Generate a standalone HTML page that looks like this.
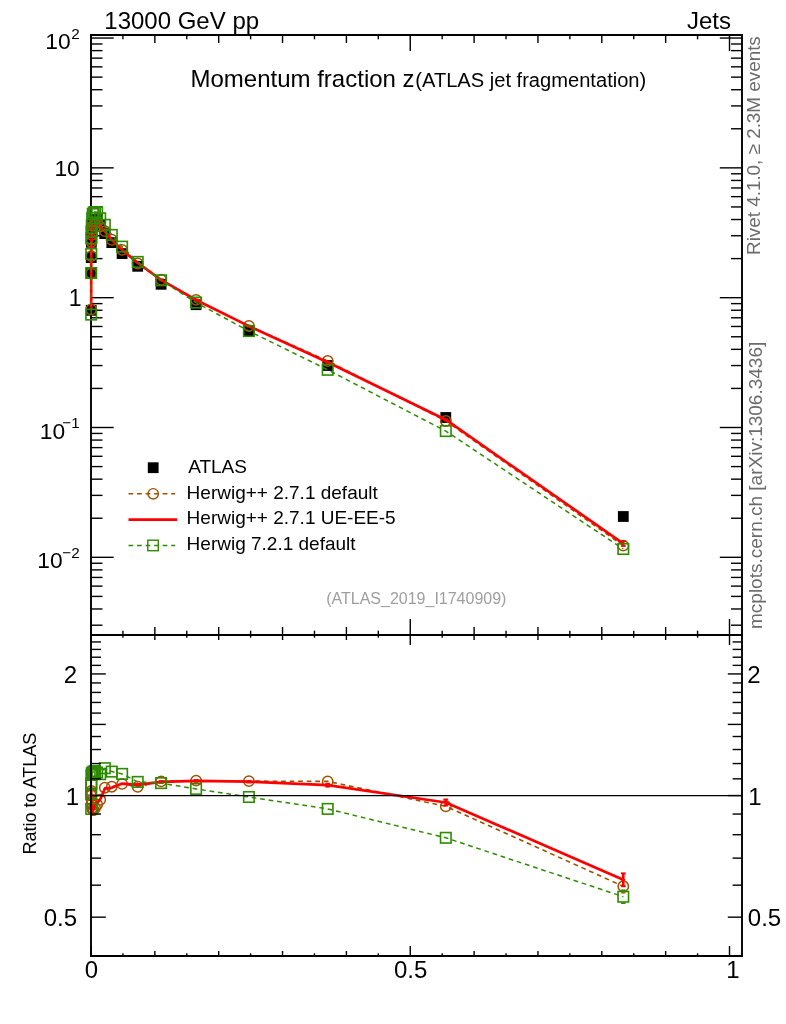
<!DOCTYPE html>
<html><head><meta charset="utf-8"><title>Momentum fraction z</title>
<style>
html,body{margin:0;padding:0;background:#fff;}
svg{display:block;will-change:transform;}
text{font-family:"Liberation Sans",sans-serif;}
</style></head><body>
<svg width="786" height="1024" viewBox="0 0 786 1024">
<rect width="786" height="1024" fill="#fff"/>
<line x1="91.00" y1="34.00" x2="91.00" y2="635.00" stroke="#000" stroke-width="1.9" />
<line x1="91.00" y1="625.20" x2="102.50" y2="625.20" stroke="#000" stroke-width="1.4" />
<line x1="91.00" y1="608.98" x2="102.50" y2="608.98" stroke="#000" stroke-width="1.4" />
<line x1="91.00" y1="596.40" x2="102.50" y2="596.40" stroke="#000" stroke-width="1.4" />
<line x1="91.00" y1="586.12" x2="102.50" y2="586.12" stroke="#000" stroke-width="1.4" />
<line x1="91.00" y1="577.43" x2="102.50" y2="577.43" stroke="#000" stroke-width="1.4" />
<line x1="91.00" y1="569.90" x2="102.50" y2="569.90" stroke="#000" stroke-width="1.4" />
<line x1="91.00" y1="563.26" x2="102.50" y2="563.26" stroke="#000" stroke-width="1.4" />
<line x1="91.00" y1="557.32" x2="113.70" y2="557.32" stroke="#000" stroke-width="1.4" />
<line x1="91.00" y1="518.24" x2="102.50" y2="518.24" stroke="#000" stroke-width="1.4" />
<line x1="91.00" y1="495.38" x2="102.50" y2="495.38" stroke="#000" stroke-width="1.4" />
<line x1="91.00" y1="479.16" x2="102.50" y2="479.16" stroke="#000" stroke-width="1.4" />
<line x1="91.00" y1="466.58" x2="102.50" y2="466.58" stroke="#000" stroke-width="1.4" />
<line x1="91.00" y1="456.30" x2="102.50" y2="456.30" stroke="#000" stroke-width="1.4" />
<line x1="91.00" y1="447.61" x2="102.50" y2="447.61" stroke="#000" stroke-width="1.4" />
<line x1="91.00" y1="440.08" x2="102.50" y2="440.08" stroke="#000" stroke-width="1.4" />
<line x1="91.00" y1="433.44" x2="102.50" y2="433.44" stroke="#000" stroke-width="1.4" />
<line x1="91.00" y1="427.50" x2="113.70" y2="427.50" stroke="#000" stroke-width="1.4" />
<line x1="91.00" y1="388.42" x2="102.50" y2="388.42" stroke="#000" stroke-width="1.4" />
<line x1="91.00" y1="365.56" x2="102.50" y2="365.56" stroke="#000" stroke-width="1.4" />
<line x1="91.00" y1="349.34" x2="102.50" y2="349.34" stroke="#000" stroke-width="1.4" />
<line x1="91.00" y1="336.76" x2="102.50" y2="336.76" stroke="#000" stroke-width="1.4" />
<line x1="91.00" y1="326.48" x2="102.50" y2="326.48" stroke="#000" stroke-width="1.4" />
<line x1="91.00" y1="317.79" x2="102.50" y2="317.79" stroke="#000" stroke-width="1.4" />
<line x1="91.00" y1="310.26" x2="102.50" y2="310.26" stroke="#000" stroke-width="1.4" />
<line x1="91.00" y1="303.62" x2="102.50" y2="303.62" stroke="#000" stroke-width="1.4" />
<line x1="91.00" y1="297.68" x2="113.70" y2="297.68" stroke="#000" stroke-width="1.4" />
<line x1="91.00" y1="258.60" x2="102.50" y2="258.60" stroke="#000" stroke-width="1.4" />
<line x1="91.00" y1="235.74" x2="102.50" y2="235.74" stroke="#000" stroke-width="1.4" />
<line x1="91.00" y1="219.52" x2="102.50" y2="219.52" stroke="#000" stroke-width="1.4" />
<line x1="91.00" y1="206.94" x2="102.50" y2="206.94" stroke="#000" stroke-width="1.4" />
<line x1="91.00" y1="196.66" x2="102.50" y2="196.66" stroke="#000" stroke-width="1.4" />
<line x1="91.00" y1="187.97" x2="102.50" y2="187.97" stroke="#000" stroke-width="1.4" />
<line x1="91.00" y1="180.44" x2="102.50" y2="180.44" stroke="#000" stroke-width="1.4" />
<line x1="91.00" y1="173.80" x2="102.50" y2="173.80" stroke="#000" stroke-width="1.4" />
<line x1="91.00" y1="167.86" x2="113.70" y2="167.86" stroke="#000" stroke-width="1.4" />
<line x1="91.00" y1="128.78" x2="102.50" y2="128.78" stroke="#000" stroke-width="1.4" />
<line x1="91.00" y1="105.92" x2="102.50" y2="105.92" stroke="#000" stroke-width="1.4" />
<line x1="91.00" y1="89.70" x2="102.50" y2="89.70" stroke="#000" stroke-width="1.4" />
<line x1="91.00" y1="77.12" x2="102.50" y2="77.12" stroke="#000" stroke-width="1.4" />
<line x1="91.00" y1="66.84" x2="102.50" y2="66.84" stroke="#000" stroke-width="1.4" />
<line x1="91.00" y1="58.15" x2="102.50" y2="58.15" stroke="#000" stroke-width="1.4" />
<line x1="91.00" y1="50.62" x2="102.50" y2="50.62" stroke="#000" stroke-width="1.4" />
<line x1="91.00" y1="43.98" x2="102.50" y2="43.98" stroke="#000" stroke-width="1.4" />
<line x1="91.00" y1="38.04" x2="113.70" y2="38.04" stroke="#000" stroke-width="1.4" />
<rect x="617.90" y="511.10" width="10.8" height="10.8" fill="#000"/>
<rect x="440.40" y="412.10" width="10.8" height="10.8" fill="#000"/>
<rect x="322.30" y="360.10" width="10.8" height="10.8" fill="#000"/>
<rect x="243.50" y="325.20" width="10.8" height="10.8" fill="#000"/>
<rect x="190.70" y="299.30" width="10.8" height="10.8" fill="#000"/>
<rect x="155.70" y="278.90" width="10.8" height="10.8" fill="#000"/>
<rect x="132.30" y="260.90" width="10.8" height="10.8" fill="#000"/>
<rect x="116.70" y="248.20" width="10.8" height="10.8" fill="#000"/>
<rect x="106.40" y="237.20" width="10.8" height="10.8" fill="#000"/>
<rect x="99.40" y="228.20" width="10.8" height="10.8" fill="#000"/>
<rect x="94.80" y="219.76" width="10.8" height="10.8" fill="#000"/>
<rect x="91.75" y="214.31" width="10.8" height="10.8" fill="#000"/>
<rect x="89.70" y="214.49" width="10.8" height="10.8" fill="#000"/>
<rect x="88.30" y="214.83" width="10.8" height="10.8" fill="#000"/>
<rect x="87.40" y="216.01" width="10.8" height="10.8" fill="#000"/>
<rect x="86.80" y="219.85" width="10.8" height="10.8" fill="#000"/>
<rect x="86.40" y="226.69" width="10.8" height="10.8" fill="#000"/>
<rect x="86.10" y="232.60" width="10.8" height="10.8" fill="#000"/>
<rect x="85.95" y="236.90" width="10.8" height="10.8" fill="#000"/>
<rect x="85.85" y="252.22" width="10.8" height="10.8" fill="#000"/>
<rect x="85.80" y="268.10" width="10.8" height="10.8" fill="#000"/>
<rect x="85.80" y="304.91" width="10.8" height="10.8" fill="#000"/>
<polyline points="91.20,309.49 91.20,273.48 91.25,256.15 91.35,241.97 91.50,239.43 91.80,234.80 92.20,229.25 92.80,226.05 93.70,224.87 95.10,223.89 97.15,222.58 100.20,226.53 104.80,231.08 111.80,239.76 122.10,249.86 137.70,263.49 161.10,279.75 196.10,299.90 248.90,325.96 327.70,360.95 445.80,420.95 623.30,545.66" fill="none" stroke="#9f5000" stroke-width="1.6" stroke-dasharray="4.72 3.82" stroke-dashoffset="3.22" stroke-linejoin="round"/>
<circle cx="623.30" cy="545.66" r="5.2" fill="none" stroke="#9f5000" stroke-width="1.5"/>
<circle cx="445.80" cy="420.95" r="5.2" fill="none" stroke="#9f5000" stroke-width="1.5"/>
<circle cx="327.70" cy="360.95" r="5.2" fill="none" stroke="#9f5000" stroke-width="1.5"/>
<circle cx="248.90" cy="325.96" r="5.2" fill="none" stroke="#9f5000" stroke-width="1.5"/>
<circle cx="196.10" cy="299.90" r="5.2" fill="none" stroke="#9f5000" stroke-width="1.5"/>
<circle cx="161.10" cy="279.75" r="5.2" fill="none" stroke="#9f5000" stroke-width="1.5"/>
<circle cx="137.70" cy="263.49" r="5.2" fill="none" stroke="#9f5000" stroke-width="1.5"/>
<circle cx="122.10" cy="249.86" r="5.2" fill="none" stroke="#9f5000" stroke-width="1.5"/>
<circle cx="111.80" cy="239.76" r="5.2" fill="none" stroke="#9f5000" stroke-width="1.5"/>
<circle cx="104.80" cy="231.08" r="5.2" fill="none" stroke="#9f5000" stroke-width="1.5"/>
<circle cx="100.20" cy="226.53" r="5.2" fill="none" stroke="#9f5000" stroke-width="1.5"/>
<circle cx="97.15" cy="222.58" r="5.2" fill="none" stroke="#9f5000" stroke-width="1.5"/>
<circle cx="95.10" cy="223.89" r="5.2" fill="none" stroke="#9f5000" stroke-width="1.5"/>
<circle cx="93.70" cy="224.87" r="5.2" fill="none" stroke="#9f5000" stroke-width="1.5"/>
<circle cx="92.80" cy="226.05" r="5.2" fill="none" stroke="#9f5000" stroke-width="1.5"/>
<circle cx="92.20" cy="229.25" r="5.2" fill="none" stroke="#9f5000" stroke-width="1.5"/>
<circle cx="91.80" cy="234.80" r="5.2" fill="none" stroke="#9f5000" stroke-width="1.5"/>
<circle cx="91.50" cy="239.43" r="5.2" fill="none" stroke="#9f5000" stroke-width="1.5"/>
<circle cx="91.35" cy="241.97" r="5.2" fill="none" stroke="#9f5000" stroke-width="1.5"/>
<circle cx="91.25" cy="256.15" r="5.2" fill="none" stroke="#9f5000" stroke-width="1.5"/>
<circle cx="91.20" cy="273.48" r="5.2" fill="none" stroke="#9f5000" stroke-width="1.5"/>
<circle cx="91.20" cy="309.49" r="5.2" fill="none" stroke="#9f5000" stroke-width="1.5"/>
<polyline points="91.20,308.72 91.20,273.48 91.25,256.80 91.35,243.09 91.50,240.72 91.80,236.41 92.20,230.53 92.80,226.53 93.70,224.23 95.10,222.76 97.15,221.94 100.20,226.43 104.80,231.40 111.80,240.11 122.10,249.76 137.70,262.85 161.10,279.91 196.10,299.99 248.90,326.15 327.70,362.17 445.80,419.73 623.30,543.57" fill="none" stroke="#ff0000" stroke-width="2.7"  stroke-linejoin="round"/>
<line x1="623.30" y1="541.17" x2="623.30" y2="545.97" stroke="#ff0000" stroke-width="2.4" />
<line x1="620.90" y1="541.17" x2="625.70" y2="541.17" stroke="#ff0000" stroke-width="1.8" />
<line x1="620.90" y1="545.97" x2="625.70" y2="545.97" stroke="#ff0000" stroke-width="1.8" />
<line x1="445.80" y1="419.03" x2="445.80" y2="420.43" stroke="#ff0000" stroke-width="2.4" />
<line x1="443.40" y1="419.03" x2="448.20" y2="419.03" stroke="#ff0000" stroke-width="1.6" />
<line x1="443.40" y1="420.43" x2="448.20" y2="420.43" stroke="#ff0000" stroke-width="1.6" />
<line x1="327.70" y1="361.47" x2="327.70" y2="362.87" stroke="#ff0000" stroke-width="2.4" />
<line x1="325.30" y1="361.47" x2="330.10" y2="361.47" stroke="#ff0000" stroke-width="1.6" />
<line x1="325.30" y1="362.87" x2="330.10" y2="362.87" stroke="#ff0000" stroke-width="1.6" />
<line x1="248.90" y1="325.45" x2="248.90" y2="326.85" stroke="#ff0000" stroke-width="2.4" />
<line x1="246.50" y1="325.45" x2="251.30" y2="325.45" stroke="#ff0000" stroke-width="1.6" />
<line x1="246.50" y1="326.85" x2="251.30" y2="326.85" stroke="#ff0000" stroke-width="1.6" />
<line x1="196.10" y1="299.29" x2="196.10" y2="300.69" stroke="#ff0000" stroke-width="2.4" />
<line x1="193.70" y1="299.29" x2="198.50" y2="299.29" stroke="#ff0000" stroke-width="1.6" />
<line x1="193.70" y1="300.69" x2="198.50" y2="300.69" stroke="#ff0000" stroke-width="1.6" />
<line x1="161.10" y1="279.21" x2="161.10" y2="280.61" stroke="#ff0000" stroke-width="2.4" />
<line x1="158.70" y1="279.21" x2="163.50" y2="279.21" stroke="#ff0000" stroke-width="1.6" />
<line x1="158.70" y1="280.61" x2="163.50" y2="280.61" stroke="#ff0000" stroke-width="1.6" />
<polyline points="91.20,314.60 91.20,273.00 91.25,254.00 91.35,238.40 91.50,231.40 91.80,225.00 92.20,218.00 92.80,214.00 93.70,212.50 95.10,212.00 97.15,212.30 100.20,218.30 104.80,224.81 111.80,234.90 122.10,246.64 137.70,261.91 161.10,280.30 196.10,302.56 248.90,331.07 327.70,369.79 445.80,431.08 623.30,549.00" fill="none" stroke="#2e8a00" stroke-width="1.5" stroke-dasharray="4.72 3.82" stroke-dashoffset="0.12" stroke-linejoin="round"/>
<rect x="618.05" y="543.75" width="10.5" height="10.5" fill="none" stroke="#2e8a00" stroke-width="1.6"/>
<rect x="440.55" y="425.83" width="10.5" height="10.5" fill="none" stroke="#2e8a00" stroke-width="1.6"/>
<rect x="322.45" y="364.54" width="10.5" height="10.5" fill="none" stroke="#2e8a00" stroke-width="1.6"/>
<rect x="243.65" y="325.82" width="10.5" height="10.5" fill="none" stroke="#2e8a00" stroke-width="1.6"/>
<rect x="190.85" y="297.31" width="10.5" height="10.5" fill="none" stroke="#2e8a00" stroke-width="1.6"/>
<rect x="155.85" y="275.05" width="10.5" height="10.5" fill="none" stroke="#2e8a00" stroke-width="1.6"/>
<rect x="132.45" y="256.66" width="10.5" height="10.5" fill="none" stroke="#2e8a00" stroke-width="1.6"/>
<rect x="116.85" y="241.39" width="10.5" height="10.5" fill="none" stroke="#2e8a00" stroke-width="1.6"/>
<rect x="106.55" y="229.65" width="10.5" height="10.5" fill="none" stroke="#2e8a00" stroke-width="1.6"/>
<rect x="99.55" y="219.56" width="10.5" height="10.5" fill="none" stroke="#2e8a00" stroke-width="1.6"/>
<rect x="94.95" y="213.05" width="10.5" height="10.5" fill="none" stroke="#2e8a00" stroke-width="1.6"/>
<rect x="91.90" y="207.05" width="10.5" height="10.5" fill="none" stroke="#2e8a00" stroke-width="1.6"/>
<rect x="89.85" y="206.75" width="10.5" height="10.5" fill="none" stroke="#2e8a00" stroke-width="1.6"/>
<rect x="88.45" y="207.25" width="10.5" height="10.5" fill="none" stroke="#2e8a00" stroke-width="1.6"/>
<rect x="87.55" y="208.75" width="10.5" height="10.5" fill="none" stroke="#2e8a00" stroke-width="1.6"/>
<rect x="86.95" y="212.75" width="10.5" height="10.5" fill="none" stroke="#2e8a00" stroke-width="1.6"/>
<rect x="86.55" y="219.75" width="10.5" height="10.5" fill="none" stroke="#2e8a00" stroke-width="1.6"/>
<rect x="86.25" y="226.15" width="10.5" height="10.5" fill="none" stroke="#2e8a00" stroke-width="1.6"/>
<rect x="86.10" y="233.15" width="10.5" height="10.5" fill="none" stroke="#2e8a00" stroke-width="1.6"/>
<rect x="86.00" y="248.75" width="10.5" height="10.5" fill="none" stroke="#2e8a00" stroke-width="1.6"/>
<rect x="85.95" y="267.75" width="10.5" height="10.5" fill="none" stroke="#2e8a00" stroke-width="1.6"/>
<rect x="85.95" y="309.35" width="10.5" height="10.5" fill="none" stroke="#2e8a00" stroke-width="1.6"/>
<polyline points="91.20,793.00 91.20,795.50 91.25,791.00 91.35,794.50 91.50,800.00 91.80,804.00 92.20,808.00 92.80,810.00 93.70,810.00 95.10,808.00 97.15,804.50 100.20,799.80 104.80,787.70 111.80,786.70 122.10,783.90 137.70,786.80 161.10,781.40 196.10,780.60 248.90,781.10 327.70,781.40 445.80,806.30 623.30,886.30" fill="none" stroke="#9f5000" stroke-width="1.6" stroke-dasharray="4.72 3.82" stroke-dashoffset="0.87" stroke-linejoin="round"/>
<circle cx="623.30" cy="886.30" r="5.2" fill="none" stroke="#9f5000" stroke-width="1.5"/>
<circle cx="445.80" cy="806.30" r="5.2" fill="none" stroke="#9f5000" stroke-width="1.5"/>
<circle cx="327.70" cy="781.40" r="5.2" fill="none" stroke="#9f5000" stroke-width="1.5"/>
<circle cx="248.90" cy="781.10" r="5.2" fill="none" stroke="#9f5000" stroke-width="1.5"/>
<circle cx="196.10" cy="780.60" r="5.2" fill="none" stroke="#9f5000" stroke-width="1.5"/>
<circle cx="161.10" cy="781.40" r="5.2" fill="none" stroke="#9f5000" stroke-width="1.5"/>
<circle cx="137.70" cy="786.80" r="5.2" fill="none" stroke="#9f5000" stroke-width="1.5"/>
<circle cx="122.10" cy="783.90" r="5.2" fill="none" stroke="#9f5000" stroke-width="1.5"/>
<circle cx="111.80" cy="786.70" r="5.2" fill="none" stroke="#9f5000" stroke-width="1.5"/>
<circle cx="104.80" cy="787.70" r="5.2" fill="none" stroke="#9f5000" stroke-width="1.5"/>
<circle cx="100.20" cy="799.80" r="5.2" fill="none" stroke="#9f5000" stroke-width="1.5"/>
<circle cx="97.15" cy="804.50" r="5.2" fill="none" stroke="#9f5000" stroke-width="1.5"/>
<circle cx="95.10" cy="808.00" r="5.2" fill="none" stroke="#9f5000" stroke-width="1.5"/>
<circle cx="93.70" cy="810.00" r="5.2" fill="none" stroke="#9f5000" stroke-width="1.5"/>
<circle cx="92.80" cy="810.00" r="5.2" fill="none" stroke="#9f5000" stroke-width="1.5"/>
<circle cx="92.20" cy="808.00" r="5.2" fill="none" stroke="#9f5000" stroke-width="1.5"/>
<circle cx="91.80" cy="804.00" r="5.2" fill="none" stroke="#9f5000" stroke-width="1.5"/>
<circle cx="91.50" cy="800.00" r="5.2" fill="none" stroke="#9f5000" stroke-width="1.5"/>
<circle cx="91.35" cy="794.50" r="5.2" fill="none" stroke="#9f5000" stroke-width="1.5"/>
<circle cx="91.25" cy="791.00" r="5.2" fill="none" stroke="#9f5000" stroke-width="1.5"/>
<circle cx="91.20" cy="795.50" r="5.2" fill="none" stroke="#9f5000" stroke-width="1.5"/>
<circle cx="91.20" cy="793.00" r="5.2" fill="none" stroke="#9f5000" stroke-width="1.5"/>
<line x1="623.30" y1="879.80" x2="623.30" y2="880.30" stroke="#9f5000" stroke-width="1.4" />
<line x1="623.30" y1="892.30" x2="623.30" y2="892.80" stroke="#9f5000" stroke-width="1.4" />
<line x1="621.10" y1="879.80" x2="625.50" y2="879.80" stroke="#9f5000" stroke-width="1.4" />
<line x1="621.10" y1="892.80" x2="625.50" y2="892.80" stroke="#9f5000" stroke-width="1.4" />
<polyline points="91.20,790.60 91.20,795.50 91.25,793.00 91.35,798.00 91.50,804.00 91.80,809.00 92.20,812.00 92.80,811.50 93.70,808.00 95.10,804.50 97.15,802.50 100.20,799.50 104.80,788.70 111.80,787.80 122.10,783.60 137.70,784.80 161.10,781.90 196.10,780.90 248.90,781.70 327.70,785.20 445.80,802.50 623.30,879.80" fill="none" stroke="#ff0000" stroke-width="2.7"  stroke-linejoin="round"/>
<line x1="623.30" y1="873.40" x2="623.30" y2="886.20" stroke="#ff0000" stroke-width="2.6" />
<line x1="620.90" y1="873.40" x2="625.70" y2="873.40" stroke="#ff0000" stroke-width="2" />
<line x1="620.90" y1="886.20" x2="625.70" y2="886.20" stroke="#ff0000" stroke-width="2" />
<line x1="445.80" y1="799.50" x2="445.80" y2="805.50" stroke="#ff0000" stroke-width="2.6" />
<line x1="443.40" y1="799.50" x2="448.20" y2="799.50" stroke="#ff0000" stroke-width="2" />
<line x1="443.40" y1="805.50" x2="448.20" y2="805.50" stroke="#ff0000" stroke-width="2" />
<line x1="327.70" y1="783.80" x2="327.70" y2="786.60" stroke="#ff0000" stroke-width="2.6" />
<line x1="325.30" y1="783.80" x2="330.10" y2="783.80" stroke="#ff0000" stroke-width="2" />
<line x1="325.30" y1="786.60" x2="330.10" y2="786.60" stroke="#ff0000" stroke-width="2" />
<line x1="248.90" y1="780.80" x2="248.90" y2="782.60" stroke="#ff0000" stroke-width="2.4" />
<line x1="246.50" y1="780.80" x2="251.30" y2="780.80" stroke="#ff0000" stroke-width="1.8" />
<line x1="246.50" y1="782.60" x2="251.30" y2="782.60" stroke="#ff0000" stroke-width="1.8" />
<line x1="196.10" y1="780.00" x2="196.10" y2="781.80" stroke="#ff0000" stroke-width="2.4" />
<line x1="193.70" y1="780.00" x2="198.50" y2="780.00" stroke="#ff0000" stroke-width="1.8" />
<line x1="193.70" y1="781.80" x2="198.50" y2="781.80" stroke="#ff0000" stroke-width="1.8" />
<line x1="161.10" y1="781.00" x2="161.10" y2="782.80" stroke="#ff0000" stroke-width="2.4" />
<line x1="158.70" y1="781.00" x2="163.50" y2="781.00" stroke="#ff0000" stroke-width="1.8" />
<line x1="158.70" y1="782.80" x2="163.50" y2="782.80" stroke="#ff0000" stroke-width="1.8" />
<line x1="137.70" y1="783.90" x2="137.70" y2="785.70" stroke="#ff0000" stroke-width="2.4" />
<line x1="135.30" y1="783.90" x2="140.10" y2="783.90" stroke="#ff0000" stroke-width="1.8" />
<line x1="135.30" y1="785.70" x2="140.10" y2="785.70" stroke="#ff0000" stroke-width="1.8" />
<polyline points="91.20,808.90 91.20,794.00 91.25,784.30 91.35,783.40 91.50,775.00 91.80,773.50 92.20,773.00 92.80,772.50 93.70,771.50 95.10,771.00 97.15,772.50 100.20,774.20 104.80,768.20 111.80,771.60 122.10,773.90 137.70,781.90 161.10,783.10 196.10,788.90 248.90,797.00 327.70,808.90 445.80,837.80 623.30,896.70" fill="none" stroke="#2e8a00" stroke-width="1.5" stroke-dasharray="4.72 3.82" stroke-dashoffset="0.64" stroke-linejoin="round"/>
<rect x="618.05" y="891.45" width="10.5" height="10.5" fill="none" stroke="#2e8a00" stroke-width="1.6"/>
<rect x="440.55" y="832.55" width="10.5" height="10.5" fill="none" stroke="#2e8a00" stroke-width="1.6"/>
<rect x="322.45" y="803.65" width="10.5" height="10.5" fill="none" stroke="#2e8a00" stroke-width="1.6"/>
<rect x="243.65" y="791.75" width="10.5" height="10.5" fill="none" stroke="#2e8a00" stroke-width="1.6"/>
<rect x="190.85" y="783.65" width="10.5" height="10.5" fill="none" stroke="#2e8a00" stroke-width="1.6"/>
<rect x="155.85" y="777.85" width="10.5" height="10.5" fill="none" stroke="#2e8a00" stroke-width="1.6"/>
<rect x="132.45" y="776.65" width="10.5" height="10.5" fill="none" stroke="#2e8a00" stroke-width="1.6"/>
<rect x="116.85" y="768.65" width="10.5" height="10.5" fill="none" stroke="#2e8a00" stroke-width="1.6"/>
<rect x="106.55" y="766.35" width="10.5" height="10.5" fill="none" stroke="#2e8a00" stroke-width="1.6"/>
<rect x="99.55" y="762.95" width="10.5" height="10.5" fill="none" stroke="#2e8a00" stroke-width="1.6"/>
<rect x="94.95" y="768.95" width="10.5" height="10.5" fill="none" stroke="#2e8a00" stroke-width="1.6"/>
<rect x="91.90" y="767.25" width="10.5" height="10.5" fill="none" stroke="#2e8a00" stroke-width="1.6"/>
<rect x="89.85" y="765.75" width="10.5" height="10.5" fill="none" stroke="#2e8a00" stroke-width="1.6"/>
<rect x="88.45" y="766.25" width="10.5" height="10.5" fill="none" stroke="#2e8a00" stroke-width="1.6"/>
<rect x="87.55" y="767.25" width="10.5" height="10.5" fill="none" stroke="#2e8a00" stroke-width="1.6"/>
<rect x="86.95" y="767.75" width="10.5" height="10.5" fill="none" stroke="#2e8a00" stroke-width="1.6"/>
<rect x="86.55" y="768.25" width="10.5" height="10.5" fill="none" stroke="#2e8a00" stroke-width="1.6"/>
<rect x="86.25" y="769.75" width="10.5" height="10.5" fill="none" stroke="#2e8a00" stroke-width="1.6"/>
<rect x="86.10" y="778.15" width="10.5" height="10.5" fill="none" stroke="#2e8a00" stroke-width="1.6"/>
<rect x="86.00" y="779.05" width="10.5" height="10.5" fill="none" stroke="#2e8a00" stroke-width="1.6"/>
<rect x="85.95" y="788.75" width="10.5" height="10.5" fill="none" stroke="#2e8a00" stroke-width="1.6"/>
<rect x="85.95" y="803.65" width="10.5" height="10.5" fill="none" stroke="#2e8a00" stroke-width="1.6"/>
<line x1="623.30" y1="890.10" x2="623.30" y2="890.70" stroke="#2e8a00" stroke-width="1.4" />
<line x1="623.30" y1="902.70" x2="623.30" y2="903.30" stroke="#2e8a00" stroke-width="1.4" />
<line x1="621.10" y1="890.10" x2="625.50" y2="890.10" stroke="#2e8a00" stroke-width="1.4" />
<line x1="621.10" y1="903.30" x2="625.50" y2="903.30" stroke="#2e8a00" stroke-width="1.4" />
<line x1="91.00" y1="795.65" x2="742.00" y2="795.65" stroke="#000" stroke-width="1.4" />
<line x1="91.00" y1="635.00" x2="91.00" y2="957.00" stroke="#000" stroke-width="1.9" />
<line x1="742.00" y1="34.00" x2="742.00" y2="957.00" stroke="#000" stroke-width="1.9" />
<line x1="90.00" y1="35.00" x2="743.00" y2="35.00" stroke="#000" stroke-width="1.9" />
<line x1="90.00" y1="635.00" x2="743.00" y2="635.00" stroke="#000" stroke-width="1.9" />
<line x1="90.00" y1="956.00" x2="743.00" y2="956.00" stroke="#000" stroke-width="1.9" />
<line x1="742.00" y1="625.20" x2="731.00" y2="625.20" stroke="#000" stroke-width="1.4" />
<line x1="742.00" y1="608.98" x2="731.00" y2="608.98" stroke="#000" stroke-width="1.4" />
<line x1="742.00" y1="596.40" x2="731.00" y2="596.40" stroke="#000" stroke-width="1.4" />
<line x1="742.00" y1="586.12" x2="731.00" y2="586.12" stroke="#000" stroke-width="1.4" />
<line x1="742.00" y1="577.43" x2="731.00" y2="577.43" stroke="#000" stroke-width="1.4" />
<line x1="742.00" y1="569.90" x2="731.00" y2="569.90" stroke="#000" stroke-width="1.4" />
<line x1="742.00" y1="563.26" x2="731.00" y2="563.26" stroke="#000" stroke-width="1.4" />
<line x1="742.00" y1="557.32" x2="719.80" y2="557.32" stroke="#000" stroke-width="1.4" />
<line x1="742.00" y1="518.24" x2="731.00" y2="518.24" stroke="#000" stroke-width="1.4" />
<line x1="742.00" y1="495.38" x2="731.00" y2="495.38" stroke="#000" stroke-width="1.4" />
<line x1="742.00" y1="479.16" x2="731.00" y2="479.16" stroke="#000" stroke-width="1.4" />
<line x1="742.00" y1="466.58" x2="731.00" y2="466.58" stroke="#000" stroke-width="1.4" />
<line x1="742.00" y1="456.30" x2="731.00" y2="456.30" stroke="#000" stroke-width="1.4" />
<line x1="742.00" y1="447.61" x2="731.00" y2="447.61" stroke="#000" stroke-width="1.4" />
<line x1="742.00" y1="440.08" x2="731.00" y2="440.08" stroke="#000" stroke-width="1.4" />
<line x1="742.00" y1="433.44" x2="731.00" y2="433.44" stroke="#000" stroke-width="1.4" />
<line x1="742.00" y1="427.50" x2="719.80" y2="427.50" stroke="#000" stroke-width="1.4" />
<line x1="742.00" y1="388.42" x2="731.00" y2="388.42" stroke="#000" stroke-width="1.4" />
<line x1="742.00" y1="365.56" x2="731.00" y2="365.56" stroke="#000" stroke-width="1.4" />
<line x1="742.00" y1="349.34" x2="731.00" y2="349.34" stroke="#000" stroke-width="1.4" />
<line x1="742.00" y1="336.76" x2="731.00" y2="336.76" stroke="#000" stroke-width="1.4" />
<line x1="742.00" y1="326.48" x2="731.00" y2="326.48" stroke="#000" stroke-width="1.4" />
<line x1="742.00" y1="317.79" x2="731.00" y2="317.79" stroke="#000" stroke-width="1.4" />
<line x1="742.00" y1="310.26" x2="731.00" y2="310.26" stroke="#000" stroke-width="1.4" />
<line x1="742.00" y1="303.62" x2="731.00" y2="303.62" stroke="#000" stroke-width="1.4" />
<line x1="742.00" y1="297.68" x2="719.80" y2="297.68" stroke="#000" stroke-width="1.4" />
<line x1="742.00" y1="258.60" x2="731.00" y2="258.60" stroke="#000" stroke-width="1.4" />
<line x1="742.00" y1="235.74" x2="731.00" y2="235.74" stroke="#000" stroke-width="1.4" />
<line x1="742.00" y1="219.52" x2="731.00" y2="219.52" stroke="#000" stroke-width="1.4" />
<line x1="742.00" y1="206.94" x2="731.00" y2="206.94" stroke="#000" stroke-width="1.4" />
<line x1="742.00" y1="196.66" x2="731.00" y2="196.66" stroke="#000" stroke-width="1.4" />
<line x1="742.00" y1="187.97" x2="731.00" y2="187.97" stroke="#000" stroke-width="1.4" />
<line x1="742.00" y1="180.44" x2="731.00" y2="180.44" stroke="#000" stroke-width="1.4" />
<line x1="742.00" y1="173.80" x2="731.00" y2="173.80" stroke="#000" stroke-width="1.4" />
<line x1="742.00" y1="167.86" x2="719.80" y2="167.86" stroke="#000" stroke-width="1.4" />
<line x1="742.00" y1="128.78" x2="731.00" y2="128.78" stroke="#000" stroke-width="1.4" />
<line x1="742.00" y1="105.92" x2="731.00" y2="105.92" stroke="#000" stroke-width="1.4" />
<line x1="742.00" y1="89.70" x2="731.00" y2="89.70" stroke="#000" stroke-width="1.4" />
<line x1="742.00" y1="77.12" x2="731.00" y2="77.12" stroke="#000" stroke-width="1.4" />
<line x1="742.00" y1="66.84" x2="731.00" y2="66.84" stroke="#000" stroke-width="1.4" />
<line x1="742.00" y1="58.15" x2="731.00" y2="58.15" stroke="#000" stroke-width="1.4" />
<line x1="742.00" y1="50.62" x2="731.00" y2="50.62" stroke="#000" stroke-width="1.4" />
<line x1="742.00" y1="43.98" x2="731.00" y2="43.98" stroke="#000" stroke-width="1.4" />
<line x1="742.00" y1="38.04" x2="719.80" y2="38.04" stroke="#000" stroke-width="1.4" />
<line x1="91.00" y1="917.17" x2="105.80" y2="917.17" stroke="#000" stroke-width="1.4" />
<line x1="742.00" y1="917.17" x2="727.80" y2="917.17" stroke="#000" stroke-width="1.4" />
<line x1="91.00" y1="885.18" x2="101.00" y2="885.18" stroke="#000" stroke-width="1.4" />
<line x1="742.00" y1="885.18" x2="732.60" y2="885.18" stroke="#000" stroke-width="1.4" />
<line x1="91.00" y1="858.13" x2="101.00" y2="858.13" stroke="#000" stroke-width="1.4" />
<line x1="742.00" y1="858.13" x2="732.60" y2="858.13" stroke="#000" stroke-width="1.4" />
<line x1="91.00" y1="834.70" x2="101.00" y2="834.70" stroke="#000" stroke-width="1.4" />
<line x1="742.00" y1="834.70" x2="732.60" y2="834.70" stroke="#000" stroke-width="1.4" />
<line x1="91.00" y1="814.04" x2="101.00" y2="814.04" stroke="#000" stroke-width="1.4" />
<line x1="742.00" y1="814.04" x2="732.60" y2="814.04" stroke="#000" stroke-width="1.4" />
<line x1="91.00" y1="795.55" x2="105.80" y2="795.55" stroke="#000" stroke-width="1.4" />
<line x1="742.00" y1="795.55" x2="727.80" y2="795.55" stroke="#000" stroke-width="1.4" />
<line x1="91.00" y1="778.83" x2="101.00" y2="778.83" stroke="#000" stroke-width="1.4" />
<line x1="742.00" y1="778.83" x2="732.60" y2="778.83" stroke="#000" stroke-width="1.4" />
<line x1="91.00" y1="763.56" x2="101.00" y2="763.56" stroke="#000" stroke-width="1.4" />
<line x1="742.00" y1="763.56" x2="732.60" y2="763.56" stroke="#000" stroke-width="1.4" />
<line x1="91.00" y1="749.52" x2="101.00" y2="749.52" stroke="#000" stroke-width="1.4" />
<line x1="742.00" y1="749.52" x2="732.60" y2="749.52" stroke="#000" stroke-width="1.4" />
<line x1="91.00" y1="736.51" x2="101.00" y2="736.51" stroke="#000" stroke-width="1.4" />
<line x1="742.00" y1="736.51" x2="732.60" y2="736.51" stroke="#000" stroke-width="1.4" />
<line x1="91.00" y1="724.41" x2="105.80" y2="724.41" stroke="#000" stroke-width="1.4" />
<line x1="742.00" y1="724.41" x2="727.80" y2="724.41" stroke="#000" stroke-width="1.4" />
<line x1="91.00" y1="713.09" x2="101.00" y2="713.09" stroke="#000" stroke-width="1.4" />
<line x1="742.00" y1="713.09" x2="732.60" y2="713.09" stroke="#000" stroke-width="1.4" />
<line x1="91.00" y1="702.45" x2="101.00" y2="702.45" stroke="#000" stroke-width="1.4" />
<line x1="742.00" y1="702.45" x2="732.60" y2="702.45" stroke="#000" stroke-width="1.4" />
<line x1="91.00" y1="692.42" x2="101.00" y2="692.42" stroke="#000" stroke-width="1.4" />
<line x1="742.00" y1="692.42" x2="732.60" y2="692.42" stroke="#000" stroke-width="1.4" />
<line x1="91.00" y1="682.93" x2="101.00" y2="682.93" stroke="#000" stroke-width="1.4" />
<line x1="742.00" y1="682.93" x2="732.60" y2="682.93" stroke="#000" stroke-width="1.4" />
<line x1="91.00" y1="673.93" x2="105.80" y2="673.93" stroke="#000" stroke-width="1.4" />
<line x1="742.00" y1="673.93" x2="727.80" y2="673.93" stroke="#000" stroke-width="1.4" />
<line x1="91.00" y1="665.37" x2="101.00" y2="665.37" stroke="#000" stroke-width="1.4" />
<line x1="742.00" y1="665.37" x2="732.60" y2="665.37" stroke="#000" stroke-width="1.4" />
<line x1="91.00" y1="657.21" x2="101.00" y2="657.21" stroke="#000" stroke-width="1.4" />
<line x1="742.00" y1="657.21" x2="732.60" y2="657.21" stroke="#000" stroke-width="1.4" />
<line x1="91.00" y1="649.41" x2="101.00" y2="649.41" stroke="#000" stroke-width="1.4" />
<line x1="742.00" y1="649.41" x2="732.60" y2="649.41" stroke="#000" stroke-width="1.4" />
<line x1="91.00" y1="641.94" x2="101.00" y2="641.94" stroke="#000" stroke-width="1.4" />
<line x1="742.00" y1="641.94" x2="732.60" y2="641.94" stroke="#000" stroke-width="1.4" />
<line x1="91.00" y1="35.00" x2="91.00" y2="51.00" stroke="#000" stroke-width="1.4" />
<line x1="91.00" y1="619.00" x2="91.00" y2="645.00" stroke="#000" stroke-width="1.4" />
<line x1="91.00" y1="946.00" x2="91.00" y2="956.00" stroke="#000" stroke-width="1.4" />
<line x1="122.92" y1="35.00" x2="122.92" y2="39.30" stroke="#000" stroke-width="1.4" />
<line x1="122.92" y1="630.70" x2="122.92" y2="637.70" stroke="#000" stroke-width="1.4" />
<line x1="122.92" y1="953.30" x2="122.92" y2="956.00" stroke="#000" stroke-width="1.4" />
<line x1="154.85" y1="35.00" x2="154.85" y2="43.00" stroke="#000" stroke-width="1.4" />
<line x1="154.85" y1="627.00" x2="154.85" y2="640.00" stroke="#000" stroke-width="1.4" />
<line x1="154.85" y1="951.00" x2="154.85" y2="956.00" stroke="#000" stroke-width="1.4" />
<line x1="186.78" y1="35.00" x2="186.78" y2="39.30" stroke="#000" stroke-width="1.4" />
<line x1="186.78" y1="630.70" x2="186.78" y2="637.70" stroke="#000" stroke-width="1.4" />
<line x1="186.78" y1="953.30" x2="186.78" y2="956.00" stroke="#000" stroke-width="1.4" />
<line x1="218.70" y1="35.00" x2="218.70" y2="43.00" stroke="#000" stroke-width="1.4" />
<line x1="218.70" y1="627.00" x2="218.70" y2="640.00" stroke="#000" stroke-width="1.4" />
<line x1="218.70" y1="951.00" x2="218.70" y2="956.00" stroke="#000" stroke-width="1.4" />
<line x1="250.62" y1="35.00" x2="250.62" y2="39.30" stroke="#000" stroke-width="1.4" />
<line x1="250.62" y1="630.70" x2="250.62" y2="637.70" stroke="#000" stroke-width="1.4" />
<line x1="250.62" y1="953.30" x2="250.62" y2="956.00" stroke="#000" stroke-width="1.4" />
<line x1="282.55" y1="35.00" x2="282.55" y2="43.00" stroke="#000" stroke-width="1.4" />
<line x1="282.55" y1="627.00" x2="282.55" y2="640.00" stroke="#000" stroke-width="1.4" />
<line x1="282.55" y1="951.00" x2="282.55" y2="956.00" stroke="#000" stroke-width="1.4" />
<line x1="314.48" y1="35.00" x2="314.48" y2="39.30" stroke="#000" stroke-width="1.4" />
<line x1="314.48" y1="630.70" x2="314.48" y2="637.70" stroke="#000" stroke-width="1.4" />
<line x1="314.48" y1="953.30" x2="314.48" y2="956.00" stroke="#000" stroke-width="1.4" />
<line x1="346.40" y1="35.00" x2="346.40" y2="43.00" stroke="#000" stroke-width="1.4" />
<line x1="346.40" y1="627.00" x2="346.40" y2="640.00" stroke="#000" stroke-width="1.4" />
<line x1="346.40" y1="951.00" x2="346.40" y2="956.00" stroke="#000" stroke-width="1.4" />
<line x1="378.32" y1="35.00" x2="378.32" y2="39.30" stroke="#000" stroke-width="1.4" />
<line x1="378.32" y1="630.70" x2="378.32" y2="637.70" stroke="#000" stroke-width="1.4" />
<line x1="378.32" y1="953.30" x2="378.32" y2="956.00" stroke="#000" stroke-width="1.4" />
<line x1="410.25" y1="35.00" x2="410.25" y2="51.00" stroke="#000" stroke-width="1.4" />
<line x1="410.25" y1="619.00" x2="410.25" y2="645.00" stroke="#000" stroke-width="1.4" />
<line x1="410.25" y1="946.00" x2="410.25" y2="956.00" stroke="#000" stroke-width="1.4" />
<line x1="442.18" y1="35.00" x2="442.18" y2="39.30" stroke="#000" stroke-width="1.4" />
<line x1="442.18" y1="630.70" x2="442.18" y2="637.70" stroke="#000" stroke-width="1.4" />
<line x1="442.18" y1="953.30" x2="442.18" y2="956.00" stroke="#000" stroke-width="1.4" />
<line x1="474.10" y1="35.00" x2="474.10" y2="43.00" stroke="#000" stroke-width="1.4" />
<line x1="474.10" y1="627.00" x2="474.10" y2="640.00" stroke="#000" stroke-width="1.4" />
<line x1="474.10" y1="951.00" x2="474.10" y2="956.00" stroke="#000" stroke-width="1.4" />
<line x1="506.03" y1="35.00" x2="506.03" y2="39.30" stroke="#000" stroke-width="1.4" />
<line x1="506.03" y1="630.70" x2="506.03" y2="637.70" stroke="#000" stroke-width="1.4" />
<line x1="506.03" y1="953.30" x2="506.03" y2="956.00" stroke="#000" stroke-width="1.4" />
<line x1="537.95" y1="35.00" x2="537.95" y2="43.00" stroke="#000" stroke-width="1.4" />
<line x1="537.95" y1="627.00" x2="537.95" y2="640.00" stroke="#000" stroke-width="1.4" />
<line x1="537.95" y1="951.00" x2="537.95" y2="956.00" stroke="#000" stroke-width="1.4" />
<line x1="569.88" y1="35.00" x2="569.88" y2="39.30" stroke="#000" stroke-width="1.4" />
<line x1="569.88" y1="630.70" x2="569.88" y2="637.70" stroke="#000" stroke-width="1.4" />
<line x1="569.88" y1="953.30" x2="569.88" y2="956.00" stroke="#000" stroke-width="1.4" />
<line x1="601.80" y1="35.00" x2="601.80" y2="43.00" stroke="#000" stroke-width="1.4" />
<line x1="601.80" y1="627.00" x2="601.80" y2="640.00" stroke="#000" stroke-width="1.4" />
<line x1="601.80" y1="951.00" x2="601.80" y2="956.00" stroke="#000" stroke-width="1.4" />
<line x1="633.73" y1="35.00" x2="633.73" y2="39.30" stroke="#000" stroke-width="1.4" />
<line x1="633.73" y1="630.70" x2="633.73" y2="637.70" stroke="#000" stroke-width="1.4" />
<line x1="633.73" y1="953.30" x2="633.73" y2="956.00" stroke="#000" stroke-width="1.4" />
<line x1="665.65" y1="35.00" x2="665.65" y2="43.00" stroke="#000" stroke-width="1.4" />
<line x1="665.65" y1="627.00" x2="665.65" y2="640.00" stroke="#000" stroke-width="1.4" />
<line x1="665.65" y1="951.00" x2="665.65" y2="956.00" stroke="#000" stroke-width="1.4" />
<line x1="697.58" y1="35.00" x2="697.58" y2="39.30" stroke="#000" stroke-width="1.4" />
<line x1="697.58" y1="630.70" x2="697.58" y2="637.70" stroke="#000" stroke-width="1.4" />
<line x1="697.58" y1="953.30" x2="697.58" y2="956.00" stroke="#000" stroke-width="1.4" />
<line x1="729.50" y1="35.00" x2="729.50" y2="51.00" stroke="#000" stroke-width="1.4" />
<line x1="729.50" y1="619.00" x2="729.50" y2="645.00" stroke="#000" stroke-width="1.4" />
<line x1="729.50" y1="946.00" x2="729.50" y2="956.00" stroke="#000" stroke-width="1.4" />
<text x="104.30" y="28.70" font-size="24" text-anchor="start" fill="#000" >13000 GeV pp</text>
<text x="731.00" y="28.90" font-size="24" text-anchor="end" fill="#000" >Jets</text>
<text x="190.5" y="86.6" font-size="24">Momentum fraction z<tspan font-size="20.12" dx="0.7">(ATLAS jet fragmentation)</tspan></text>
<text x="70.7" y="49.04" font-size="22.8" text-anchor="end">10</text>
<text x="79.6" y="38.64" font-size="15.2" text-anchor="end">2</text>
<text x="79.80" y="176.06" font-size="22.8" text-anchor="end" fill="#000" >10</text>
<text x="81.60" y="306.08" font-size="23" text-anchor="end" fill="#000" >1</text>
<text x="65.1" y="438.50" font-size="22.8" text-anchor="end">10</text>
<text x="79.6" y="428.10" font-size="15.2" text-anchor="end">−1</text>
<text x="62.6" y="568.32" font-size="22.8" text-anchor="end">10</text>
<text x="79.6" y="557.92" font-size="15.2" text-anchor="end">−2</text>
<text x="77.00" y="682.83" font-size="24" text-anchor="end" fill="#000" >2</text>
<text x="747.30" y="682.83" font-size="24" text-anchor="start" fill="#000" >2</text>
<text x="79.00" y="805.05" font-size="24" text-anchor="end" fill="#000" >1</text>
<text x="748.30" y="805.05" font-size="24" text-anchor="start" fill="#000" >1</text>
<text x="77.00" y="926.07" font-size="24" text-anchor="end" fill="#000" >0.5</text>
<text x="747.80" y="926.07" font-size="24" text-anchor="start" fill="#000" >0.5</text>
<text x="91.50" y="978.30" font-size="24" text-anchor="middle" fill="#000" >0</text>
<text x="410.60" y="978.30" font-size="24" text-anchor="middle" fill="#000" >0.5</text>
<text x="733.00" y="978.30" font-size="24" text-anchor="middle" fill="#000" >1</text>
<rect x="147.8" y="462.3" width="10.8" height="10.8" fill="#000"/>
<line x1="128.50" y1="493.80" x2="175.20" y2="493.80" stroke="#9f5000" stroke-width="1.5" stroke-dasharray="4.72 3.82"/>
<circle cx="153.2" cy="493.8" r="5.2" fill="none" stroke="#9f5000" stroke-width="1.4"/>
<line x1="128.50" y1="519.70" x2="177.20" y2="519.70" stroke="#ff0000" stroke-width="2.8" />
<line x1="128.50" y1="545.50" x2="175.20" y2="545.50" stroke="#2e8a00" stroke-width="1.3" stroke-dasharray="4.72 3.82"/>
<rect x="147.8" y="540.2" width="10.5" height="10.5" fill="none" stroke="#2e8a00" stroke-width="1.4"/>
<text x="188.20" y="472.60" font-size="19" text-anchor="start" fill="#000" >ATLAS</text>
<text x="186.60" y="498.50" font-size="19" text-anchor="start" fill="#000" >Herwig++ 2.7.1 default</text>
<text x="186.60" y="524.40" font-size="19" text-anchor="start" fill="#000" >Herwig++ 2.7.1 UE-EE-5</text>
<text x="186.60" y="550.30" font-size="19" text-anchor="start" fill="#000" >Herwig 7.2.1 default</text>
<text x="416.30" y="604.20" font-size="16" text-anchor="middle" fill="#9e9e9e" >(ATLAS_2019_I1740909)</text>
<text transform="translate(760.4,36.2) rotate(-90)" font-size="18.85" text-anchor="end" fill="#6b6b6b">Rivet 4.1.0, ≥ 2.3M events</text>
<text transform="translate(762.1,629) rotate(-90)" font-size="19" text-anchor="start" fill="#6b6b6b">mcplots.cern.ch [arXiv:1306.3436]</text>
<text transform="translate(36.4,793.6) rotate(-90)" font-size="18" text-anchor="middle" fill="#000">Ratio to ATLAS</text>
</svg>
</body></html>
